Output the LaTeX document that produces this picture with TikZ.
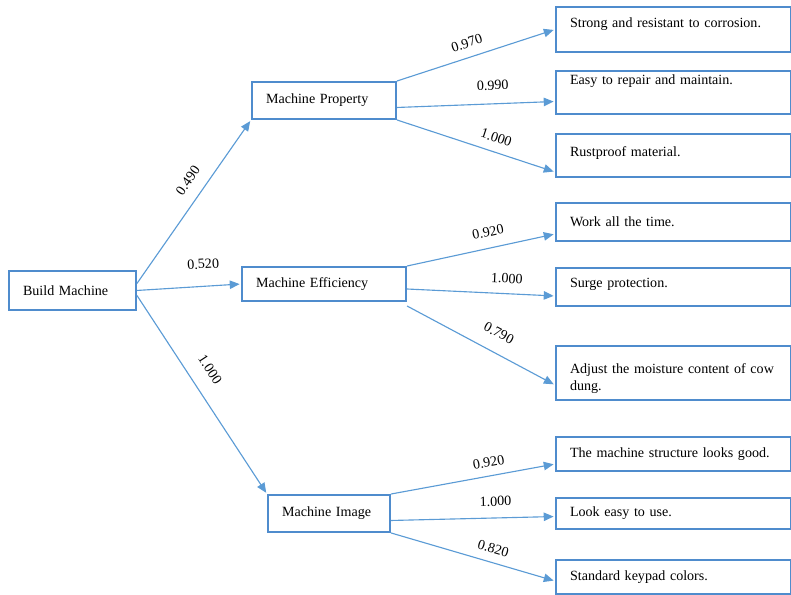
\documentclass[tikz,border=0pt]{standalone}
\usepackage{fontspec}
\setmainfont{Liberation Serif}
\usepackage{tikz}
\usetikzlibrary{arrows.meta,calc}
\definecolor{boxblue}{RGB}{79,140,205}
\definecolor{lineblue}{RGB}{91,155,213}
\tikzset{
    tree-box/.style = {draw=boxblue, line width=1.4pt, rectangle, anchor=north west, align=left, inner xsep=10pt, inner ysep=2pt},
    leaf-box/.style = {tree-box, text width=147.2pt},
    tree-arrow/.style = {draw=lineblue, line width=0.8pt, -{Triangle[length=7pt,width=6pt]}, shorten >=1pt},
    weight-label/.style = {sloped, inner sep=2pt, text=black},
}

\begin{document}
\begin{tikzpicture}[x=0.025cm, y=-0.025cm]
\useasboundingbox (0,0) rectangle (791,594);

\node [tree-box, text width=70.3pt, minimum height=27.7pt] (build) at (8,270) {Build Machine};
\node [tree-box, text width=82.4pt, minimum height=26.3pt] (property) at (251,81) {Machine Property};
\node [tree-box, text width=96.7pt, minimum height=24.2pt] (efficiency) at (241,266) {Machine Efficiency};
\node [tree-box, text width=66.8pt, minimum height=26.3pt] (image) at (267,494) {Machine Image};

\node [leaf-box, minimum height=32.0pt, text depth=10pt] (strong) at (555,6) {Strong and resistant to corrosion.};
\node [leaf-box, minimum height=30.6pt, text depth=18pt] (repair) at (555,70) {Easy to repair and maintain.};
\node [leaf-box, minimum height=30.6pt, text depth=6pt] (rustproof) at (555,133) {Rustproof material.};
\node [leaf-box, minimum height=27.0pt] (worktime) at (555,202) {Work all the time.};
\node [leaf-box, minimum height=27.0pt, text depth=6pt] (surge) at (555,267) {Surge protection.};
\node [leaf-box, minimum height=38.4pt, text depth=6pt] (moisture) at (555,345) {Adjust the moisture content of cow\\dung.};
\node [leaf-box, minimum height=24.2pt] (structure) at (555,436) {The machine structure looks good.};
\node [leaf-box, minimum height=22.1pt] (easyuse) at (555,497) {Look easy to use.};
\node [leaf-box, minimum height=24.2pt] (keypad) at (555,559) {Standard keypad colors.};

\draw [tree-arrow] ($(build.east)+(0,-7)$) -- (property.south west) node [weight-label, pos=0.57, above=6.4pt] {0.490};
\draw [tree-arrow] (build.east) -- (efficiency.west) node [weight-label, pos=0.65, above=10pt] {0.520};
\draw [tree-arrow] ($(build.east)+(0,5)$) -- (image.north west) node [weight-label, pos=0.43, above=8.8pt] {1.000};

\draw [tree-arrow] (property.north east) -- (strong.west) node [weight-label, pos=0.47, above=4.5pt] {0.970};
\draw [tree-arrow] ($(property.east)+(0,7)$) -- ($(repair.west)+(0,9)$) node [weight-label, pos=0.61, above=7.3pt] {0.990};
\draw [tree-arrow] (property.south east) -- ($(rustproof.south west)+(0,-6)$) node [weight-label, pos=0.60, above=4.4pt] {1.000};

\draw [tree-arrow] (efficiency.north east) -- ($(worktime.west)+(0,12)$) node [weight-label, pos=0.57, above=5.7pt] {0.920};
\draw [tree-arrow] ($(efficiency.east)+(0,5)$) -- ($(surge.west)+(0,9)$) node [weight-label, pos=0.67, above=5pt] {1.000};
\draw [tree-arrow] ($(efficiency.south east)+(0,4)$) -- ($(moisture.west)+(0,12)$) node [weight-label, pos=0.56, above=8pt] {0.790};

\draw [tree-arrow] (image.north east) -- ($(structure.west)+(0,10)$) node [weight-label, pos=0.61, above=4pt] {0.920};
\draw [tree-arrow] ($(image.east)+(0,7)$) -- ($(easyuse.west)+(0,3)$) node [weight-label, pos=0.64, above=6pt] {1.000};
\draw [tree-arrow] (image.south east) -- ($(keypad.west)+(0,4)$) node [weight-label, pos=0.60, above=4pt] {0.820};
\end{tikzpicture}
\end{document}
